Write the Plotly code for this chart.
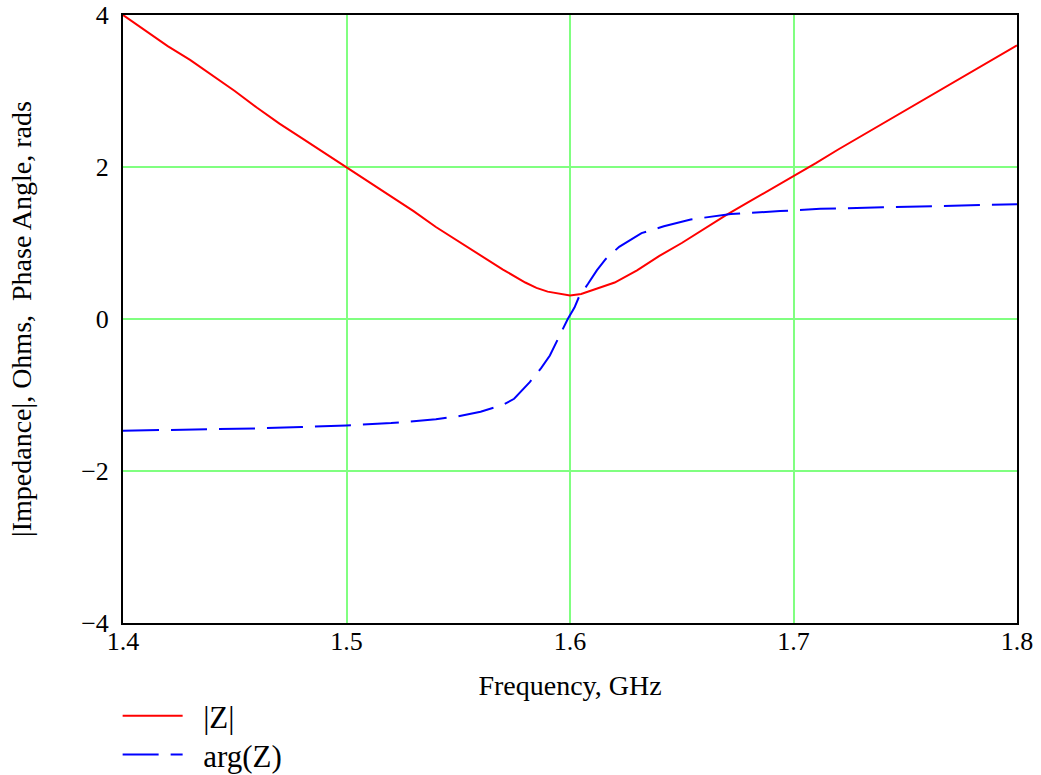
import plotly.graph_objects as go

# |Z| readings (Ohms) vs frequency (GHz)
freq_mag = [1.40, 1.41, 1.42, 1.43, 1.44, 1.45, 1.46, 1.47, 1.48, 1.49,
            1.50, 1.51, 1.52, 1.53, 1.54, 1.55, 1.56, 1.57, 1.58, 1.585,
            1.59, 1.595, 1.60, 1.605, 1.61, 1.62, 1.63, 1.64, 1.65, 1.66,
            1.67, 1.68, 1.69, 1.70, 1.71, 1.72, 1.73, 1.74, 1.75, 1.76,
            1.77, 1.78, 1.79, 1.80]
mag_z = [4.00, 3.80, 3.59, 3.41, 3.21, 3.00, 2.78, 2.57, 2.38, 2.19,
         2.00, 1.80, 1.62, 1.42, 1.21, 1.02, 0.83, 0.65, 0.48, 0.41,
         0.36, 0.33, 0.31, 0.33, 0.38, 0.48, 0.64, 0.83, 1.00, 1.19,
         1.37, 1.54, 1.71, 1.87, 2.05, 2.23, 2.40, 2.57, 2.74, 2.91,
         3.08, 3.26, 3.43, 3.60]

# arg(Z) readings (rads)
freq_arg = [1.40, 1.42, 1.44, 1.46, 1.48, 1.50, 1.52, 1.54, 1.55, 1.56,
            1.57, 1.575, 1.582, 1.587, 1.591, 1.594, 1.597, 1.599, 1.602,
            1.604, 1.608, 1.612, 1.616, 1.622, 1.632, 1.642, 1.654, 1.672,
            1.694, 1.712, 1.74, 1.77, 1.80]
arg_z = [-1.47, -1.46, -1.45, -1.44, -1.42, -1.40, -1.37, -1.32, -1.28, -1.22,
         -1.13, -1.05, -0.83, -0.65, -0.48, -0.30, -0.14, 0.00, 0.15,
         0.29, 0.46, 0.64, 0.79, 0.95, 1.13, 1.22, 1.31, 1.38,
         1.42, 1.45, 1.47, 1.49, 1.51]

x_ticks = [1.4, 1.5, 1.6, 1.7, 1.8]
y_ticks = [-4, -2, 0, 2, 4]

FONT = "Liberation Serif"

fig = go.Figure()
fig.add_trace(go.Scatter(x=freq_mag, y=mag_z, mode="lines", name="\u2002|Z|",
                         legend="legend",
                         line=dict(color="#ff0000", width=2)))
fig.add_trace(go.Scatter(x=freq_arg, y=arg_z, mode="lines", name="\u2002arg(Z)",
                         legend="legend2",
                         line=dict(color="#0000ff", width=2, dash="36px,12px")))

legend_common = dict(xanchor="left", yanchor="middle",
                     font=dict(family=FONT, size=31), itemwidth=60,
                     bgcolor="rgba(0,0,0,0)")

fig.update_layout(
    width=1041, height=775,
    paper_bgcolor="white", plot_bgcolor="white",
    margin=dict(l=123, r=24, t=15, b=152, autoexpand=False),
    font=dict(family=FONT, size=26, color="black"),
    showlegend=True,
    legend=dict(x=-0.006, y=-0.153, **legend_common),
    legend2=dict(x=-0.006, y=-0.217, **legend_common),
)
fig.update_xaxes(
    range=[1.4, 1.8], tickvals=x_ticks, ticktext=[f"{v:.1f}" for v in x_ticks],
    tickfont=dict(family=FONT, size=26),
    showgrid=True, gridcolor="#80ff80", gridwidth=1.5,
    showline=True, linecolor="black", linewidth=2, mirror=True,
    zeroline=False, ticks="", ticklabelstandoff=-6,
    title=dict(text="Frequency, GHz", font=dict(family=FONT, size=28), standoff=20),
    automargin=False,
)
fig.update_yaxes(
    range=[-4, 4], tickvals=y_ticks,
    tickfont=dict(family=FONT, size=26),
    showgrid=True, gridcolor="#80ff80", gridwidth=1.5,
    showline=True, linecolor="black", linewidth=2, mirror=True,
    zeroline=True, zerolinecolor="#80ff80", zerolinewidth=1.5,
    ticks="", ticklabelstandoff=7,
    title=dict(text="|Impedance|, Ohms,  Phase Angle, rads",
               font=dict(family=FONT, size=28), standoff=41),
    automargin=False,
)

fig.write_html("out.html", config={"displayModeBar": False},
               post_script="document.body.style.margin='0';")
